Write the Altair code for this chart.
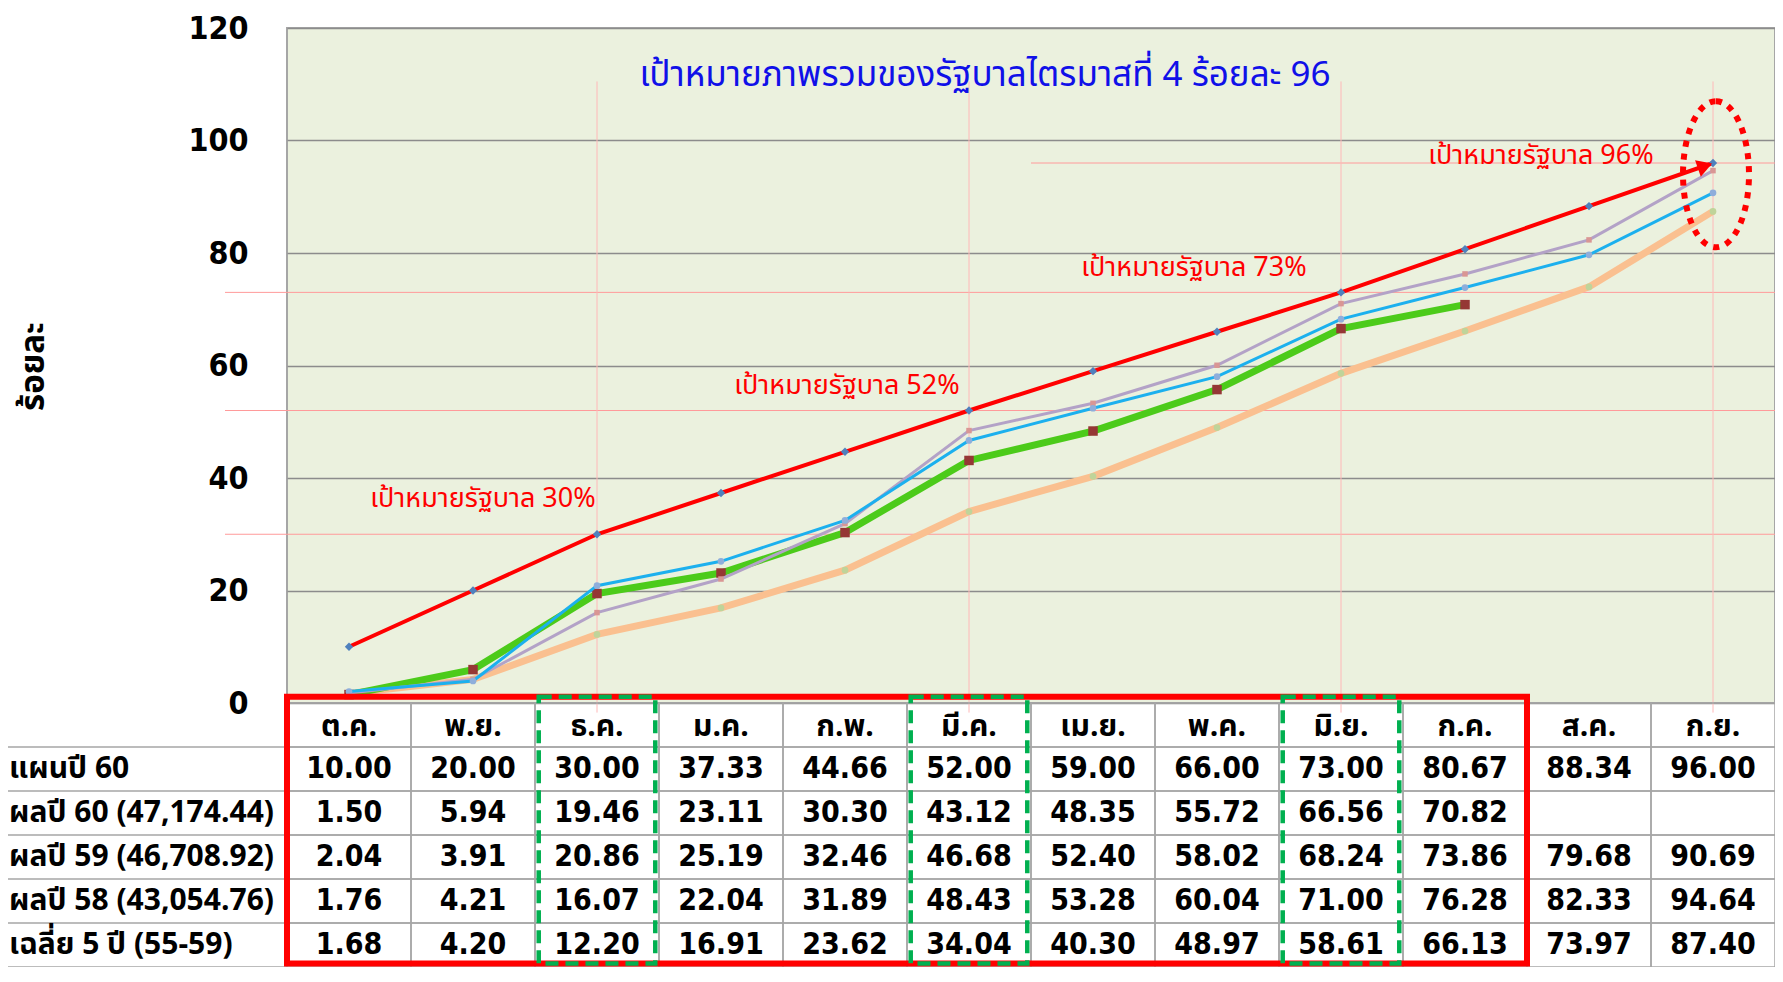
import altair as alt
import pandas as pd

# ---------------- data ----------------
months = ["ต.ค.", "พ.ย.", "ธ.ค.", "ม.ค.", "ก.พ.", "มี.ค.",
          "เม.ย.", "พ.ค.", "มิ.ย.", "ก.ค.", "ส.ค.", "ก.ย."]
plan60 = [10.00, 20.00, 30.00, 37.33, 44.66, 52.00, 59.00, 66.00, 73.00, 80.67, 88.34, 96.00]
res60 = [1.50, 5.94, 19.46, 23.11, 30.30, 43.12, 48.35, 55.72, 66.56, 70.82, None, None]
res59 = [2.04, 3.91, 20.86, 25.19, 32.46, 46.68, 52.40, 58.02, 68.24, 73.86, 79.68, 90.69]
res58 = [1.76, 4.21, 16.07, 22.04, 31.89, 48.43, 53.28, 60.04, 71.00, 76.28, 82.33, 94.64]
avg5 = [1.68, 4.20, 12.20, 16.91, 23.62, 34.04, 40.30, 48.97, 58.61, 66.13, 73.97, 87.40]

row_keys = ["plan", "r60", "r59", "r58", "avg"]
row_labels = ["แผนปี 60", "ผลปี 60 (47,174.44)", "ผลปี 59 (46,708.92)",
              "ผลปี 58 (43,054.76)", "เฉลี่ย 5 ปี (55-59)"]

y_ticks = [0, 20, 40, 60, 80, 100, 120]
targets = [30, 52, 73]
target_last = 96
target_last_from = "เม.ย."
quarter_months = ["ธ.ค.", "มี.ค.", "มิ.ย.", "ก.ย."]
target_texts = ["เป้าหมายรัฐบาล 30%", "เป้าหมายรัฐบาล 52%",
                "เป้าหมายรัฐบาล 73%", "เป้าหมายรัฐบาล 96%"]
target_text_months = ["พ.ย.", "ก.พ.", "พ.ค.", "ส.ค."]
target_text_values = [36.2, 56.3, 77.4, 97.3]
title_text = "เป้าหมายภาพรวมของรัฐบาลไตรมาสที่ 4 ร้อยละ 96"
y_title = "ร้อยละ"
highlight_months = ["ธ.ค.", "มี.ค.", "มิ.ย."]
boxed_until = "ก.ค."

# ---------------- layout / style ----------------
W, H, TH = 1488, 675, 264
TOP = 20
THAI = "Tahoma, 'Noto Sans Thai', Loma, Garuda, 'DejaVu Sans', sans-serif"
NUM = "'DejaVu Sans Condensed', Tahoma, 'DejaVu Sans', sans-serif"

xs = alt.Scale(domain=months, type="band", paddingInner=0, paddingOuter=0)
ys = alt.Scale(domain=[0, 120], nice=False, zero=False)
y_axis = alt.Axis(
    values=y_ticks, grid=True, gridColor="#8C8C8C", gridWidth=1.5, ticks=False,
    domain=False, labelPadding=39, labelFont=NUM, labelFontSize=32,
    labelFontWeight="bold", labelColor="black",
    title=y_title, titleFont=THAI, titleFontSize=33, titleFontWeight="bold",
    titleColor="black", titleX=-254, titleY=338, titleAngle=270,
    titleBaseline="middle", titleAlign="center")


def X(**kw):
    return alt.X("m:N", scale=xs, axis=None, **kw)


def Y(field="v:Q", **kw):
    return alt.Y(field, scale=ys, axis=y_axis, **kw)


series = {
    "plan": plan60, "r60": res60, "r59": res59, "r58": res58, "avg": avg5,
}
long_rows = []
for k, vals in series.items():
    for m, v in zip(months, vals):
        if v is not None:
            long_rows.append({"s": k, "m": m, "v": v})
long_df = pd.DataFrame(long_rows)

# ---------------- group A : plot ----------------
pink = "#FF9A9A"
tgt_df = pd.DataFrame({"v": targets})
tgt_layer = alt.Chart(tgt_df).mark_rule(color=pink, strokeWidth=1).encode(
    y=Y(), x=alt.value(-62), x2=alt.value(W))
tgt2_layer = alt.Chart(pd.DataFrame({"v": [target_last], "m": [target_last_from]})).mark_rule(
    color=pink, strokeWidth=1).encode(y=Y(), x=X(bandPosition=0), x2=alt.value(W))

q_df = pd.DataFrame({"m": quarter_months, "v": [110.5] * 4, "bot": [-1.7] * 4})
q_layer = alt.Chart(q_df).mark_rule(color="#FFB8B8", strokeWidth=1).encode(
    x=X(), y=Y(), y2="bot:Q")

styles = [
    ("avg", "#FAC090", 7, "circle", "#BFD49A", 45),
    ("r60", "#4CCB1A", 7, "square", "#953735", 90),
    ("r58", "#B3A2C7", 3, "square", "#D99694", 30),
    ("r59", "#1CB0EE", 3, "circle", "#8EAEDB", 45),
    ("plan", "#FF0000", 4, "diamond", "#4F81BD", 70),
]
series_layers = []
for key, col, sw, shp, mcol, msz in styles:
    base = alt.Chart(long_df).transform_filter(alt.datum.s == key)
    series_layers.append(base.mark_line(color=col, strokeWidth=sw).encode(x=X(), y=Y()))
    series_layers.append(base.mark_point(shape=shp, filled=True, color=mcol, size=msz,
                                         opacity=1).encode(x=X(), y=Y()))

end_df = pd.DataFrame({"m": [months[-1]], "v": [plan60[-1]]})
arrow_layer = alt.Chart(end_df).mark_point(
    shape="triangle-right", angle=340.7, size=300, filled=True, color="#FF0000",
    opacity=1, xOffset=-8, yOffset=3).encode(x=X(), y=Y())

ell = ("M 0 -1 C 0.2497 -1 0.452 -0.5523 0.452 0 C 0.452 0.5523 0.2497 1 0 1 "
       "C -0.2497 1 -0.452 0.5523 -0.452 0 C -0.452 -0.5523 -0.2497 -1 0 -1 Z")
ell_df = pd.DataFrame({"m": [months[-1]], "v": [94.0]})
ell_layer = alt.Chart(ell_df).mark_point(
    shape=ell, size=21316, filled=False, stroke="#FF0000", strokeWidth=6,
    strokeDash=[6, 7], opacity=1, xOffset=3).encode(x=X(), y=Y())

ann_layers = []
for t, m, v, dx in zip(target_texts, target_text_months, target_text_values, [10, 2, -23, -48]):
    d = pd.DataFrame({"t": [t], "m": [m], "v": [v]})
    ann_layers.append(alt.Chart(d).mark_text(
        font=THAI, fontSize=27, color="#FF0000", dx=dx, baseline="middle").encode(
        x=X(), y=Y(), text="t:N"))

title_df = pd.DataFrame({"t": [title_text], "m": ["มี.ค."], "v": [111.6]})
title_layer = alt.Chart(title_df).mark_text(
    font=THAI, fontSize=35, color="#1010E8", dx=16, baseline="middle").encode(
    x=X(), y=Y(), text="t:N")

group_a = alt.layer(tgt_layer, tgt2_layer, q_layer, *series_layers,
                    arrow_layer, ell_layer, *ann_layers, title_layer)

# ---------------- group B : table ----------------
all_rows = ["h"] + row_keys
yb = alt.Scale(domain=all_rows, type="band", range=[H, H + TH], paddingInner=0, paddingOuter=0)


def YB(**kw):
    return alt.Y("r:N", scale=yb, axis=None, **kw)


cells_df = pd.DataFrame([{"m": m, "r": r} for r in all_rows for m in months])
cells = alt.Chart(cells_df).mark_rect(fillOpacity=0, stroke="#A6A6A6", strokeWidth=1.5).encode(
    x=X(), y=YB())
lab_lines = alt.Chart(pd.DataFrame({"r": all_rows})).mark_rule(
    color="#A6A6A6", strokeWidth=1.5).encode(
    y=YB(bandPosition=1), x=alt.value(-288), x2=alt.value(0))

head_df = pd.DataFrame({"m": months, "r": ["h"] * len(months)})
head = alt.Chart(head_df).mark_text(font=THAI, fontSize=30, fontWeight="bold",
                                    color="black", baseline="middle", dy=2).encode(
    x=X(), y=YB(), text="m:N")

tab_rows = []
for k, vals in series.items():
    for m, v in zip(months, vals):
        if v is not None:
            tab_rows.append({"r": k, "m": m, "v": v})
nums = alt.Chart(pd.DataFrame(tab_rows)).mark_text(
    font=NUM, fontSize=30, fontWeight="bold", color="black", baseline="middle").encode(
    x=X(), y=YB(), text=alt.Text("v:Q", format=".2f"))

labs = alt.Chart(pd.DataFrame({"r": row_keys, "t": row_labels})).mark_text(
    font=THAI, fontSize=30, fontWeight="bold", color="black", align="left",
    baseline="middle").encode(x=alt.value(-278), y=YB(), text="t:N")

group_b = alt.layer(cells, lab_lines, head, nums, labs)

# ---------------- group C : frames ----------------
xc = alt.Scale(domain=[0, 12], nice=False, zero=False)
yc = alt.Scale(domain=[0, 6], range=[H, H + TH], nice=False, zero=False)
red_df = pd.DataFrame({"x0": [0], "x1": [months.index(boxed_until) + 1],
                       "y0": [-0.14], "y1": [5.92]})
green_df = pd.DataFrame({"x0": [months.index(m) + 0.03 for m in highlight_months],
                         "x1": [months.index(m) + 0.97 for m in highlight_months],
                         "y0": [-0.14] * 3, "y1": [5.92] * 3})


def frame(df, **mk):
    return alt.Chart(df).mark_rect(fillOpacity=0, **mk).encode(
        x=alt.X("x0:Q", scale=xc, axis=None), x2="x1:Q",
        y=alt.Y("y0:Q", scale=yc, axis=None), y2="y1:Q")


group_c = alt.layer(
    frame(red_df, stroke="#FF0000", strokeWidth=6),
    frame(green_df, stroke="#00B050", strokeWidth=4.5, strokeDash=[13, 7]),
)

chart = alt.layer(group_a, group_b, group_c).resolve_scale(
    x="independent", y="independent"
).properties(
    width=W, height=H,
    autosize=alt.AutoSizeParams(type="none"),
    padding={"left": 279, "top": TOP, "right": 0, "bottom": TH},
    background="white",
).configure_view(fill="#EBF1DE", stroke="#A6A6A6", strokeWidth=2)

chart.save("out.html", embed_options={"renderer": "svg", "actions": False})
